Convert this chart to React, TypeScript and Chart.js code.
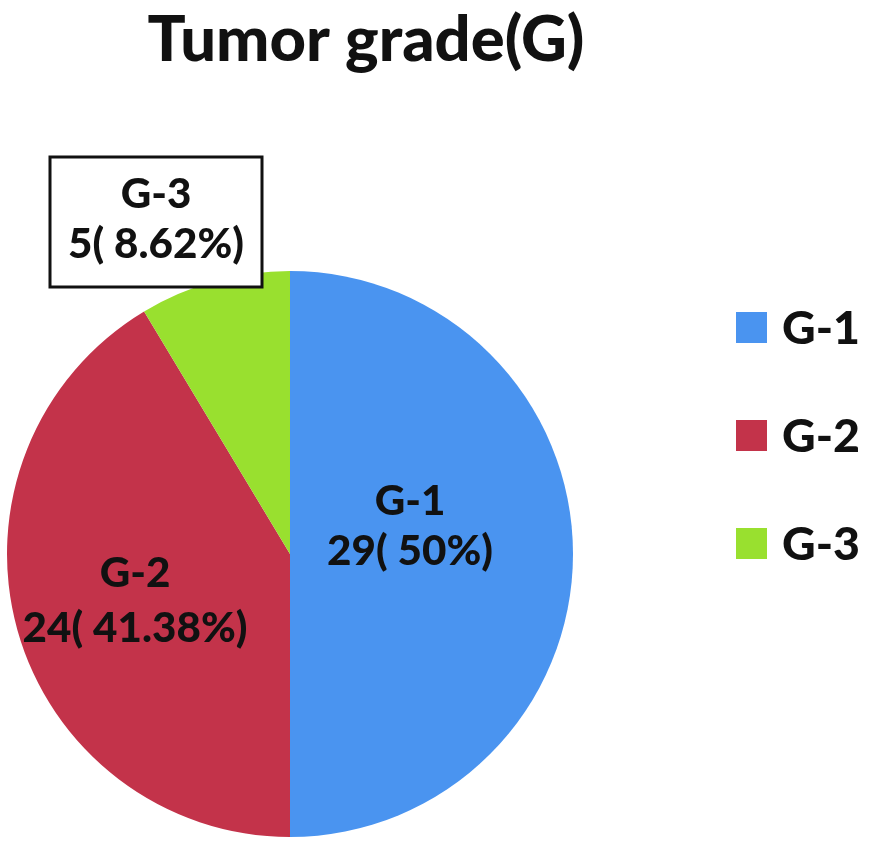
import React, { useEffect, useRef } from "react";
import { Chart, registerables } from "chart.js";

Chart.register(...registerables);

const title = "Tumor grade(G)";
const categories = ["G-1", "G-2", "G-3"];
const counts = [29, 24, 5];
const percentLabels = ["50%", "41.38%", "8.62%"];
const colors = ["rgb(74,148,240)", "rgb(195,51,74)", "rgb(153,224,47)"];

const FONT = "Lato, 'Open Sans', sans-serif";
const WEIGHT = "900";
const TEXT = "#111111";

function fitSize(ctx: CanvasRenderingContext2D, text: string, width: number) {
  ctx.font = `${WEIGHT} 100px ${FONT}`;
  const w = ctx.measureText(text).width;
  return (100 * width) / w;
}

const overlay = {
  id: "overlay",
  afterDraw(chart: any) {
    const ctx: CanvasRenderingContext2D = chart.ctx;
    const meta = chart.getDatasetMeta(0);
    const arc0 = meta.data[0];
    const cx = arc0.x;
    const cy = arc0.y;
    ctx.save();
    ctx.fillStyle = TEXT;
    ctx.textBaseline = "alphabetic";

    // title
    const ts = fitSize(ctx, title, 437);
    ctx.font = `${WEIGHT} ${ts}px ${FONT}`;
    ctx.textAlign = "center";
    ctx.fillText(title, 366, 61);

    // legend
    const ls = fitSize(ctx, "G-2", 78);
    categories.forEach((c, i) => {
      const top = 312 + i * 108;
      ctx.fillStyle = colors[i];
      ctx.fillRect(736, top, 31, 31);
      ctx.fillStyle = TEXT;
      ctx.font = `${WEIGHT} ${ls}px ${FONT}`;
      ctx.textAlign = "left";
      ctx.fillText(c, 782, top + 32);
    });

    // data labels
    const ps = fitSize(ctx, "24( 41.38%)", 225);
    ctx.font = `${WEIGHT} ${ps}px ${FONT}`;
    ctx.textAlign = "center";
    const pos = [
      { x: cx + 120, y1: cy - 39, y2: cy + 11 },
      { x: cx - 155, y1: cy + 33, y2: cy + 88 },
      { x: cx - 134, y1: cy - 346, y2: cy - 296 },
    ];
    // box for G-3
    ctx.strokeStyle = "#111111";
    ctx.lineWidth = 3;
    ctx.fillStyle = "#ffffff";
    ctx.fillRect(50, 157, 212, 130);
    ctx.strokeRect(50, 157, 212, 130);
    ctx.fillStyle = TEXT;
    categories.forEach((c, i) => {
      const p = pos[i];
      ctx.fillText(c, p.x, p.y1);
      ctx.fillText(`${counts[i]}( ${percentLabels[i]})`, p.x, p.y2);
    });
    ctx.restore();
  },
};

export default function App() {
  const ref = useRef<HTMLCanvasElement>(null);
  useEffect(() => {
    document.body.style.margin = "0";
    const chart = new Chart(ref.current!, {
      type: "pie",
      data: {
        labels: categories,
        datasets: [
          {
            data: counts,
            backgroundColor: colors,
            borderWidth: 0,
          },
        ],
      },
      options: {
        responsive: false,
        devicePixelRatio: 1,
        animation: false,
        layout: { padding: { left: 7, right: 299, top: 271, bottom: 10 } },
        plugins: {
          legend: { display: false },
          title: { display: false },
          tooltip: { enabled: false },
        },
      },
      plugins: [overlay],
    });
    return () => chart.destroy();
  }, []);
  return (
    <div style={{ position: "absolute", left: 0, top: 0, width: 872, height: 847, background: "#fff" }}>
      <canvas ref={ref} width={872} height={847} style={{ width: 872, height: 847, display: "block" }} />
    </div>
  );
}
